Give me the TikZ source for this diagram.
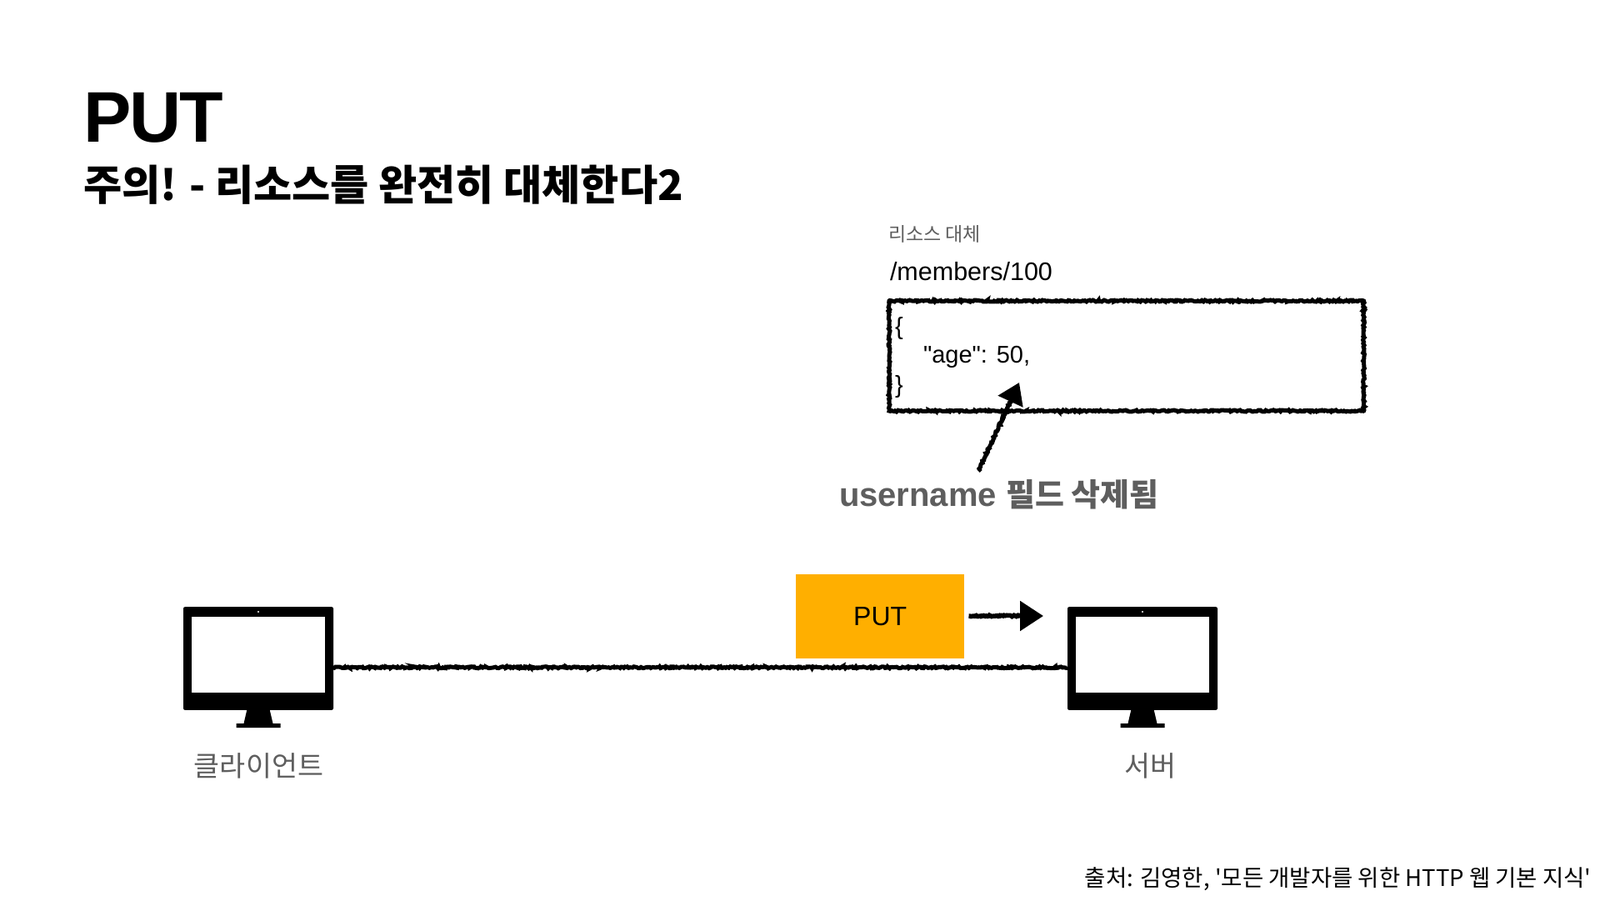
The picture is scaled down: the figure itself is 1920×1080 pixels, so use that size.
\documentclass[tikz,border=0pt]{standalone}
\usepackage{fontspec}
\usetikzlibrary{arrows.meta,decorations.pathmorphing}
\setmainfont{Liberation Sans}
\newfontfamily\plainf{Liberation Sans}
\newfontfamily\kr{Noto Sans CJK KR}
\definecolor{putorange}{HTML}{FFAF00}
\definecolor{softgrey}{HTML}{5E5E5E}
\tikzset{
  x=1pt,y=-1pt,
  txt/.style={inner sep=0pt,outer sep=0pt,anchor=west,text=black},
  sketch/.style={draw=black,decorate,decoration={random steps,segment length=1.6pt,amplitude=1pt}},
  sketcharrow/.style={draw=black,decorate,decoration={random steps,segment length=1.6pt,amplitude=.9pt,post=lineto,post length=6pt}},
  monitorbody/.style={fill=black,draw=none,rounded corners=2pt,minimum width=180pt,minimum height=123.7pt,inner sep=0pt,outer sep=0pt},
  arrowhead/.style={-{Triangle[length=25pt,width=32pt]}},
  arrowheadsmall/.style={-{Triangle[length=28pt,width=35pt]}},
}
\begin{document}
\begin{tikzpicture}
\useasboundingbox (0,0) rectangle (1920,1080);
\fill[white] (0,0) rectangle (1920,1080);

% titles
\node[txt,font=\fontsize{86}{86}\selectfont\bfseries] (title) at (100,141) {P\kern-2ptU\kern-2ptT};
\node[txt,font=\fontsize{50.2}{50}\selectfont\bfseries] (subtitle) at (100,222) {\kr\bfseries 주의! - 리소스를 완전히 대체한다2};

% resource box
\node[txt,text=softgrey,font=\fontsize{23}{23}\selectfont\kr] (rlabel) at (1066,281) {리소스 대체};
\node[txt,font=\fontsize{30.5}{30}\selectfont] (path) at (1068,326) {/members/100};
\node[sketch,line width=5pt,minimum width=569.5pt,minimum height=132pt,inner sep=0pt] (box) at (1351.75,427) {};
\node[txt,font=\fontsize{29}{29}\selectfont] (open) at (1074,394) {\{};
\node[txt,font=\fontsize{29}{29}\selectfont\plainf] (age) at (1108,428.5) {"age": 50,};
\node[txt,font=\fontsize{29}{29}\selectfont] (close) at (1074,464) {\}};

% deleted note
\node[txt,text=softgrey,font=\fontsize{40}{40}\selectfont\bfseries] (note) at (1007,593) {username {\fontsize{38}{38}\selectfont\kr\bfseries 필드 삭제됨}};
\coordinate (noteTip) at (1174,565);
\coordinate (ageTip) at (1223,459);
\draw[sketcharrow,line width=5pt,arrowhead] (noteTip) -- (ageTip);

% monitors
\node[monitorbody] (client) at (310,790) {};
\node[monitorbody] (server) at (1371,790) {};
\foreach \m in {client,server}{
  \begin{scope}[shift={(\m.center)}]
    \fill[white] (-80,-50) rectangle (80,40.7);
    \fill[white] (0,-56) circle (1.2pt);
    \fill[black] (-13.5,61) -- (13.5,61) -- (17.5,78) -- (26.5,78) -- (26.5,83) -- (-26.5,83) -- (-26.5,78) -- (-17.5,78) -- cycle;
  \end{scope}
}
\node[txt,anchor=center,text=softgrey,font=\fontsize{33.7}{34}\selectfont\kr] (clientLabel) at (310.5,919) {클라이언트};
\node[txt,anchor=center,text=softgrey,font=\fontsize{33.7}{34}\selectfont\kr] (serverLabel) at (1380,919) {서버};

% connection
\coordinate (cEnd) at (400,800.7);
\draw[sketch,line width=5pt] (cEnd) -- (server.west |- cEnd);

% request
\node[fill=putorange,draw=none,minimum width=202.5pt,minimum height=100.7pt,inner sep=0pt,outer sep=0pt,font=\fontsize{32}{32}\selectfont,text=black] (put) at (1056.2,739.3) {PUT};
\coordinate (putStart) at (1162.5,739);
\coordinate (putEnd) at (1252,739);
\draw[sketcharrow,line width=5.5pt,arrowheadsmall] (putStart) -- (putEnd);

% source
\node[txt,anchor=east,font=\fontsize{27.5}{27}\selectfont\kr] (source) at (1909.6,1054.5) {출처: 김영한, '모든 개발자를 위한 HTTP 웹 기본 지식'};
\end{tikzpicture}
\end{document}
